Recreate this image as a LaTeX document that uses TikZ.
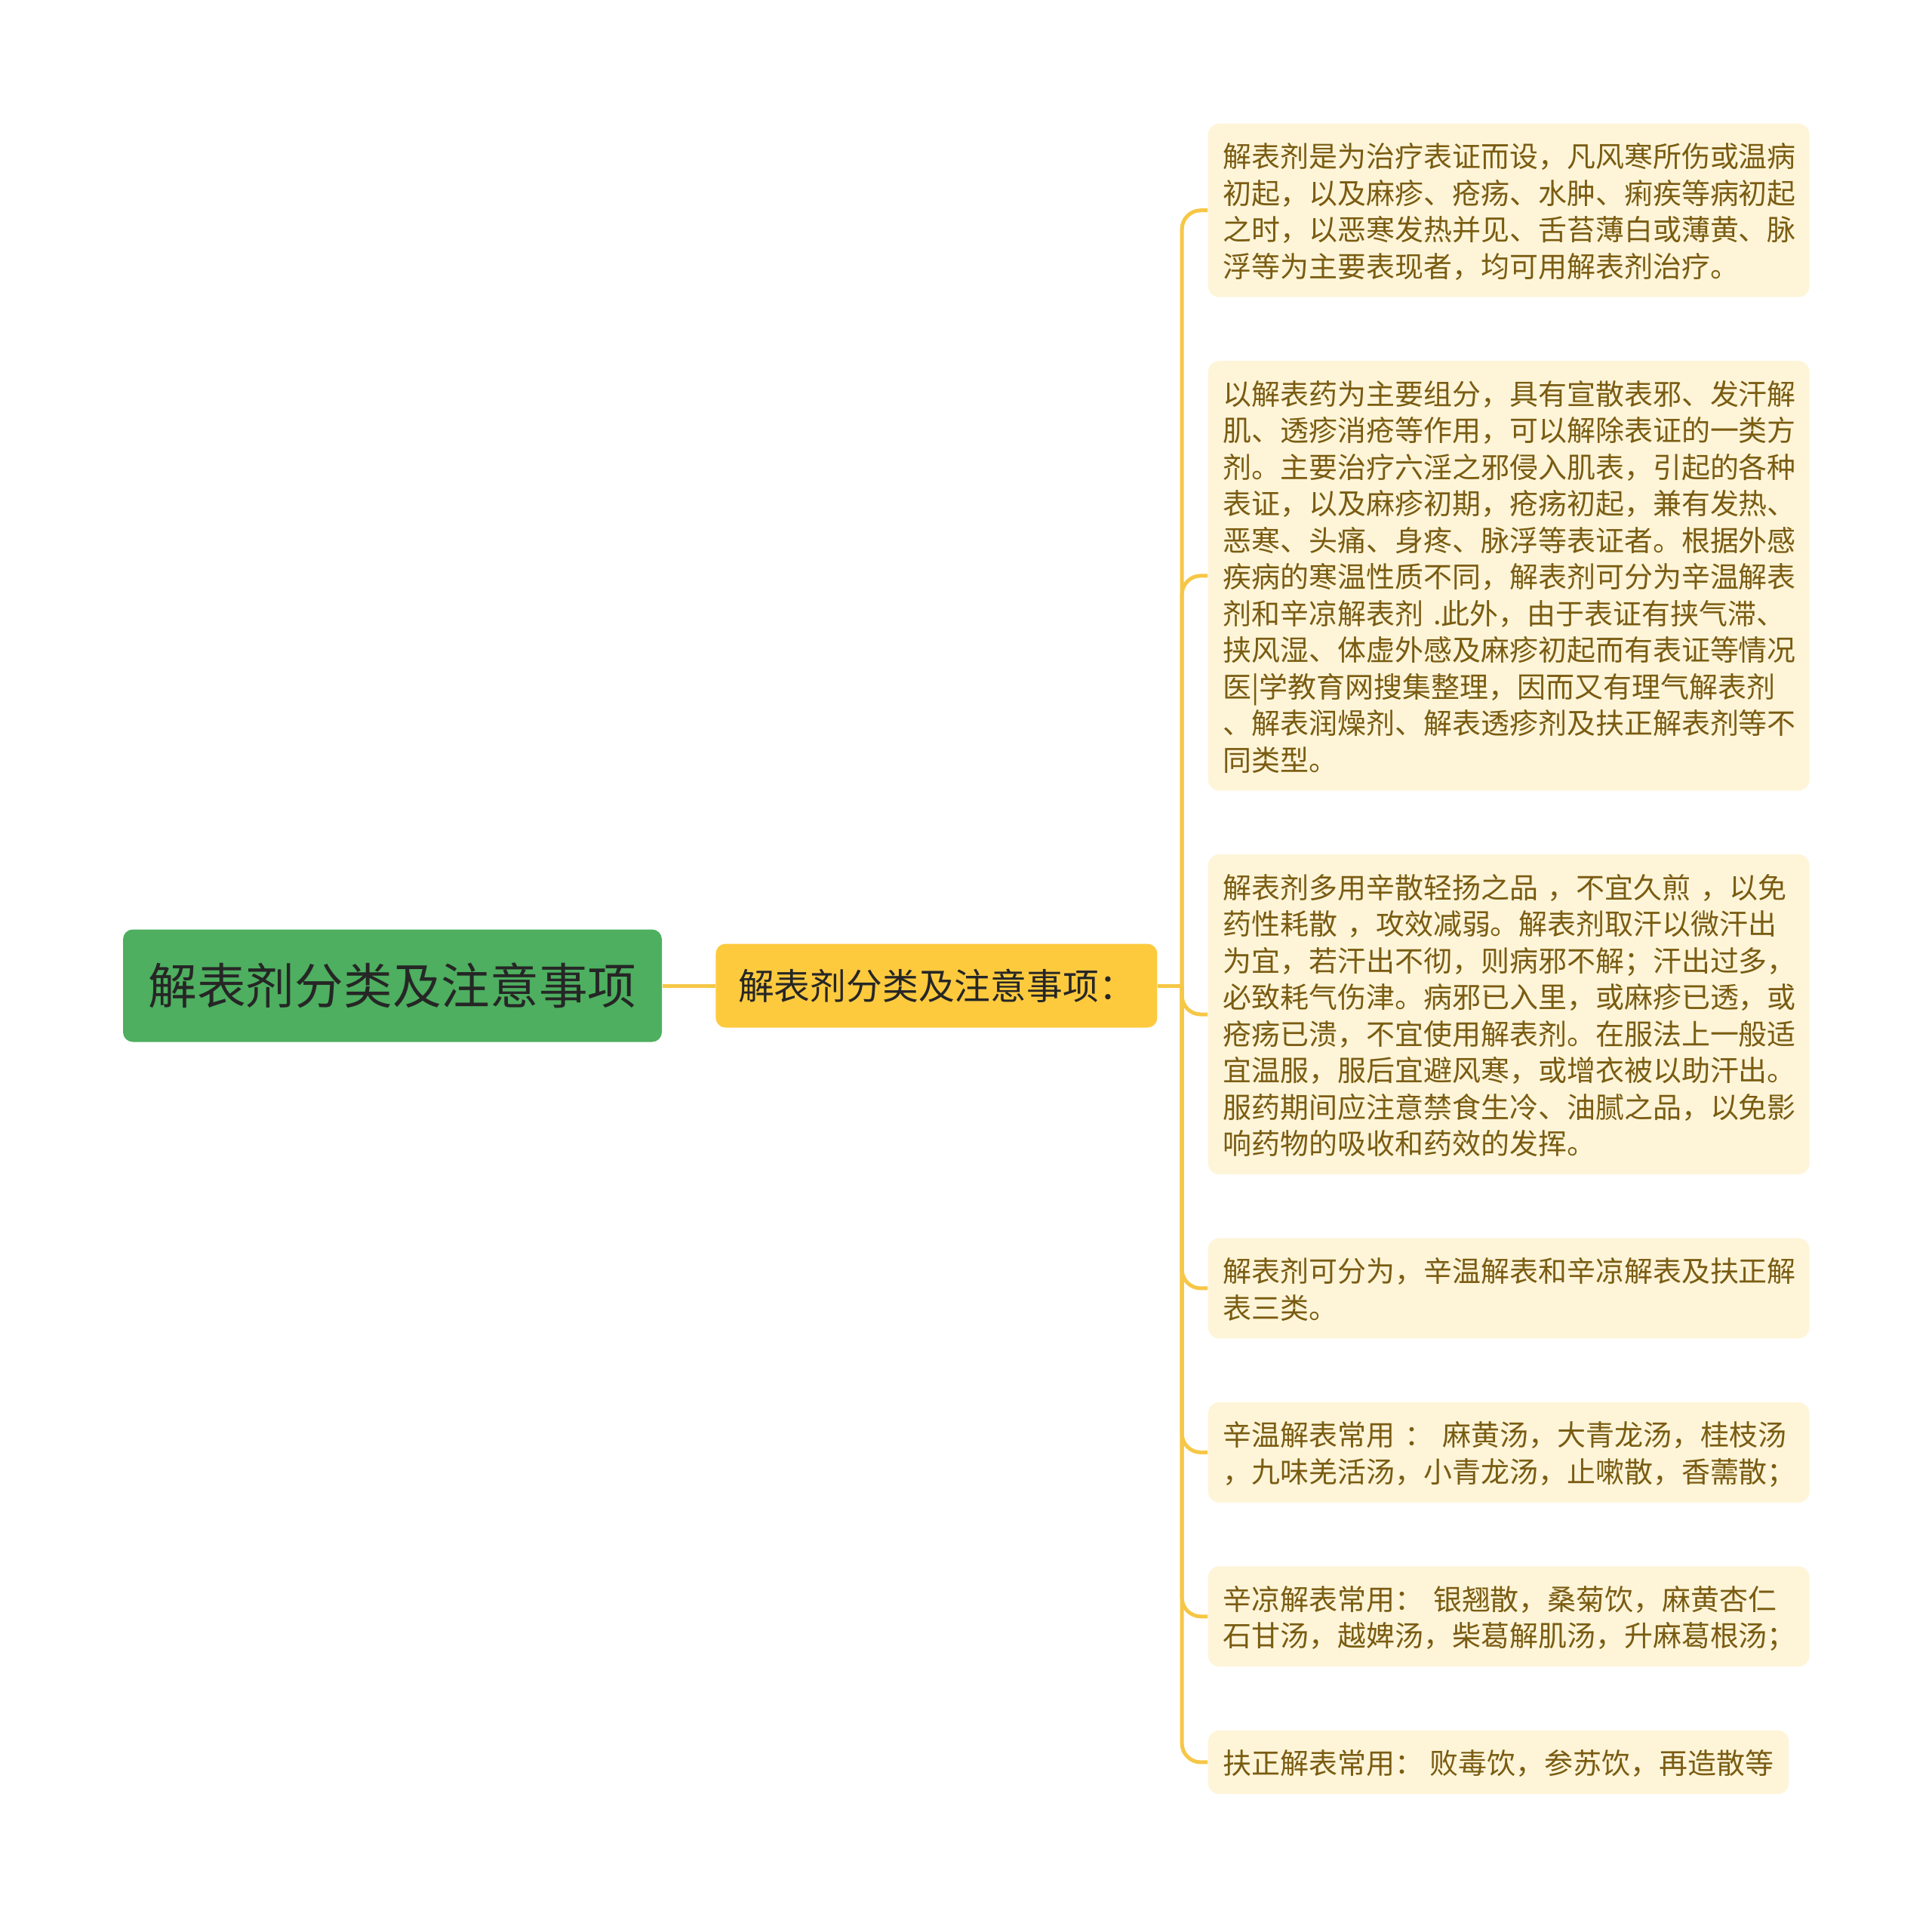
\documentclass[tikz,border=0pt]{standalone}
\usepackage{fontspec}
\setmainfont{Noto Sans CJK SC}
\usetikzlibrary{positioning}
\definecolor{rootgreen}{HTML}{4DAF5F}
\definecolor{topicyellow}{HTML}{FDCA3E}
\definecolor{leafcream}{HTML}{FEF5D9}
\definecolor{leaftext}{HTML}{7A5C12}
\definecolor{linkgold}{HTML}{F6C746}

\begin{document}
\begin{tikzpicture}[
  rootbox/.style={fill=rootgreen, rounded corners=0.13cm, minimum width=7.14cm,
                  minimum height=1.49cm, text=black!85,
                  font=\fontsize{18.4}{22}\selectfont},
  topicbox/.style={fill=topicyellow, rounded corners=0.13cm, minimum width=5.85cm,
                   minimum height=1.11cm, text=black!85,
                   font=\fontsize{13.6}{16}\selectfont},
  leafbox/.style={fill=leafcream, rounded corners=0.15cm, align=left, text=leaftext,
                  text width=7.57cm, inner xsep=0.2cm, inner ysep=0.18cm,
                  anchor=north west, font=\fontsize{10.8}{13.8}\selectfont,
                  execute at begin node={\rule[-2.4pt]{0pt}{13.8pt}},
                  execute at end node={\rule[-2.4pt]{0pt}{13.8pt}}},
  link/.style={draw=linkgold, line width=0.05cm}]
  \useasboundingbox (0,0) rectangle (25.6,-25.39);

  \node[rootbox] (root) at (5.20,-13.06) {解表剂分类及注意事项};
  \node[topicbox, right=0.7cm of root] (topic) {解表剂分类及注意事项：};

  \node[leafbox] (def) at (16,-1.63)
    {解表剂是为治疗表证而设，凡风寒所伤或温病\\
     初起，以及麻疹、疮疡、水肿、痢疾等病初起\\
     之时，以恶寒发热并见、舌苔薄白或薄黄、脉\\
     浮等为主要表现者，均可用解表剂治疗。};
  \node[below=0.83cm of def.south west, leafbox] (intro)
    {以解表药为主要组分，具有宣散表邪、发汗解\\
     肌、透疹消疮等作用，可以解除表证的一类方\\
     剂。主要治疗六淫之邪侵入肌表，引起的各种\\
     表证，以及麻疹初期，疮疡初起，兼有发热、\\
     恶寒、头痛、身疼、脉浮等表证者。根据外感\\
     疾病的寒温性质不同，解表剂可分为辛温解表\\
     剂和辛凉解表剂~.此外，由于表证有挟气滞、\\
     挟风湿、体虚外感及麻疹初起而有表证等情况\\
     医|学教育网搜集整理，因而又有理气解表剂\\
     、解表润燥剂、解表透疹剂及扶正解表剂等不\\
     同类型。};
  \node[below=0.83cm of intro.south west, leafbox] (usage)
    {解表剂多用辛散轻扬之品~，不宜久煎~，以免\\
     药性耗散~，攻效减弱。解表剂取汗以微汗出\\
     为宜，若汗出不彻，则病邪不解；汗出过多，\\
     必致耗气伤津。病邪已入里，或麻疹已透，或\\
     疮疡已溃，不宜使用解表剂。在服法上一般适\\
     宜温服，服后宜避风寒，或增衣被以助汗出。\\
     服药期间应注意禁食生冷、油腻之品，以免影\\
     响药物的吸收和药效的发挥。};
  \node[below=0.83cm of usage.south west, leafbox] (kinds)
    {解表剂可分为，辛温解表和辛凉解表及扶正解\\
     表三类。};
  \node[below=0.83cm of kinds.south west, leafbox] (warm)
    {辛温解表常用~：~麻黄汤，大青龙汤，桂枝汤\\
     ，九味羌活汤，小青龙汤，止嗽散，香薷散；};
  \node[below=0.83cm of warm.south west, leafbox] (cool)
    {辛凉解表常用：~银翘散，桑菊饮，麻黄杏仁\\
     石甘汤，越婢汤，柴葛解肌汤，升麻葛根汤；};
  \node[below=0.83cm of cool.south west, leafbox, text width={}] (tonic)
    {扶正解表常用：~败毒饮，参苏饮，再造散等};

  \draw[link] (root) -- (topic);
  \draw[link] (topic.east) -- ++(0.32,0) coordinate (hub);
  \foreach \leaf in {def,intro,usage,kinds,warm,cool,tonic}
    \draw[link, rounded corners=0.25cm] (hub) |- (\leaf.west);
\end{tikzpicture}
\end{document}
